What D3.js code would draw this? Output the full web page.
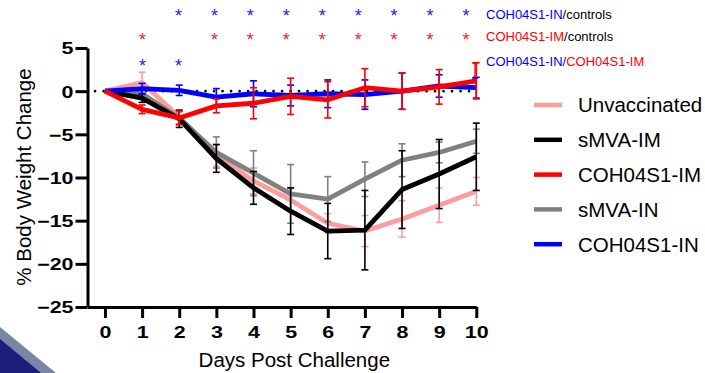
<!DOCTYPE html>
<html lang="en">
<head>
    <meta charset="UTF-8">
    <title>Body weight change</title>
    <script src="https://cdn.jsdelivr.net/npm/d3@7"></script>
    <style>
        body { margin: 0; background: #fff; }
        svg { display: block; font-family: "Liberation Sans", Arial, sans-serif; }
    </style>
</head>
<body>
<script>
    // data (mean, error)
    const days = [0, 1, 2, 3, 4, 5, 6, 7, 8, 9, 10];
    const groups = ['Unvaccinated', 'sMVA-IM', 'COH04S1-IM', 'sMVA-IN', 'COH04S1-IN'];
    const unvacc = [0, 1.0, -3.0, -7.4, -10.4, -12.6, -15.3, -16.2, -14.8, -13.2, -11.6];
    const smvaIM = [0, -0.8, -3.2, -7.8, -11.2, -13.9, -16.2, -16.1, -11.4, -9.6, -7.6];
    const cohIM = [0, -2.1, -3.1, -1.7, -1.4, -0.6, -1.0, 0.4, 0.0, 0.5, 1.2];
    const smvaIN = [0, -0.3, -3.1, -7.1, -9.5, -11.9, -12.5, -10.2, -8.0, -7.1, -5.8];
    const cohIN = [0, 0.3, 0.1, -0.7, -0.3, -0.5, -0.3, -0.4, 0.0, 0.6, 0.4];
    const unvaccErr = [0, 1.2, 0.8, 1.3, 1.5, 1.3, 1.1, 1.8, 2.1, 2.0, 1.6];
    const smvaIMErr = [0, 0.5, 1.0, 1.6, 1.9, 2.7, 3.2, 4.6, 4.5, 4.0, 3.9];
    const cohIMErr = [0, 0.5, 0.8, 0.8, 1.8, 2.1, 2.1, 2.2, 2.1, 2.0, 2.1];
    const smvaINErr = [0, 0.6, 0.7, 1.8, 2.6, 3.4, 2.6, 2.0, 1.9, 1.2, 1.4];
    const cohINErr = [0, 0.6, 0.6, 1.0, 1.5, 1.2, 1.6, 1.7, 2.1, 1.3, 1.2];
    const yTicks = [-25, -20, -15, -10, -5, 0, 5];

    // significance stars
    const starsInVsCtrl = [2, 3, 4, 5, 6, 7, 8, 9, 10];
    const starsImVsCtrl = [1, 3, 4, 5, 6, 7, 8, 9, 10];
    const starsInVsIm = [1, 2];

    const colors = ['#ff9c9c', '#000000', '#ff0000', '#808080', '#0000ff'];
    const means = [unvacc, smvaIM, cohIM, smvaIN, cohIN];
    const errs = [unvaccErr, smvaIMErr, cohIMErr, smvaINErr, cohINErr];
    const drawOrder = [0, 3, 1, 4, 2];

    const width = 705, height = 373;
    const stretch = 1.3; // tick labels in the source are drawn wide

    const svg = d3.select('body').append('svg')
        .attr('width', width)
        .attr('height', height);

    // slide corner decoration
    svg.append('path').attr('d', 'M0,327L56,373L0,373Z').attr('fill', '#7886a4');
    svg.append('path').attr('d', 'M0,339L41,373L0,373Z').attr('fill', '#1d1d7c');

    const x = d3.scaleLinear().domain([-0.47, 10]).range([87.5, 476.3]);
    const y = d3.scaleLinear().domain([-25, 5]).range([307, 48]);
    const starX = d3.scaleLinear().domain([1, 10]).range([142.5, 466]);

    // axes
    const xAxis = svg.append('g')
        .attr('transform', `translate(0,${y(-25)})`)
        .call(d3.axisBottom(x).tickValues(days).tickSizeInner(11).tickSizeOuter(0).tickPadding(8));
    const yAxis = svg.append('g')
        .attr('transform', `translate(${x(-0.47)},0)`)
        .call(d3.axisLeft(y).tickValues(yTicks).tickSizeInner(12).tickSizeOuter(0).tickPadding(2));

    [xAxis, yAxis].forEach(g => {
        g.select('.domain').attr('stroke', '#000').attr('stroke-width', 3);
        g.selectAll('.tick line').attr('stroke', '#000').attr('stroke-width', 3);
        g.selectAll('.tick text')
            .attr('fill', '#000')
            .style('font-size', '16.5px')
            .style('font-weight', 'bold')
            .style('font-family', '"Liberation Sans", Arial, sans-serif');
    });
    xAxis.selectAll('.tick text').attr('transform', `scale(${stretch},1)`);
    yAxis.selectAll('.tick text')
        .attr('dy', '0.36em')
        .attr('x', -14 / stretch)
        .attr('transform', `scale(${stretch},1)`);

    svg.append('text')
        .attr('x', x(5.1))
        .attr('y', 367)
        .attr('text-anchor', 'middle')
        .style('font-size', '20.5px')
        .text('Days Post Challenge');

    svg.append('text')
        .attr('transform', `translate(31,177) rotate(-90)`)
        .attr('text-anchor', 'middle')
        .style('font-size', '20.5px')
        .text('% Body Weight Change');

    // dotted baseline at 0
    svg.append('line')
        .attr('x1', 95).attr('x2', x(10))
        .attr('y1', y(0)).attr('y2', y(0))
        .attr('stroke', '#000')
        .attr('stroke-width', 2.6)
        .attr('stroke-linecap', 'round')
        .attr('stroke-dasharray', '0.1,8.4');

    const line = d3.line()
        .x((d, i) => x(days[i]))
        .y(d => y(d));

    drawOrder.forEach(k => {
        const g = svg.append('g');
        const m = means[k], e = errs[k];
        const bars = g.selectAll('g.bar')
            .data(days.filter(d => e[d] > 0))
            .enter().append('g')
            .attr('stroke', colors[k])
            .attr('stroke-width', 1.6);
        bars.append('line')
            .attr('x1', d => x(d)).attr('x2', d => x(d))
            .attr('y1', d => y(m[d] + e[d])).attr('y2', d => y(m[d] - e[d]));
        bars.append('line')
            .attr('x1', d => x(d) - 3.5).attr('x2', d => x(d) + 3.5)
            .attr('y1', d => y(m[d] + e[d])).attr('y2', d => y(m[d] + e[d]));
        bars.append('line')
            .attr('x1', d => x(d) - 3.5).attr('x2', d => x(d) + 3.5)
            .attr('y1', d => y(m[d] - e[d])).attr('y2', d => y(m[d] - e[d]));

        g.append('path')
            .datum(m)
            .attr('d', line)
            .attr('fill', 'none')
            .attr('stroke', colors[k])
            .attr('stroke-width', 4.8)
            .attr('stroke-linejoin', 'round');
    });

    // stars
    const starRows = [
        {days: starsInVsCtrl, y: 12, color: '#2020ff'},
        {days: starsImVsCtrl, y: 36, color: '#ff2020'},
        {days: starsInVsIm, y: 62, color: '#2020ff'}
    ];
    starRows.forEach(r => {
        svg.append('g').selectAll('text')
            .data(r.days)
            .enter().append('text')
            .attr('x', d => starX(d))
            .attr('y', r.y + 10)
            .attr('text-anchor', 'middle')
            .attr('fill', r.color)
            .style('font-size', '18px')
            .text('*');
    });

    // significance key
    const key = svg.append('g').style('font-size', '13px');
    const k1 = key.append('text').attr('x', 486).attr('y', 19);
    k1.append('tspan').attr('fill', '#0000ff').text('COH04S1-IN');
    k1.append('tspan').attr('fill', '#000').text('/controls');
    const k2 = key.append('text').attr('x', 486).attr('y', 41);
    k2.append('tspan').attr('fill', '#ff0000').text('COH04S1-IM');
    k2.append('tspan').attr('fill', '#000').text('/controls');
    const k3 = key.append('text').attr('x', 486).attr('y', 66);
    k3.append('tspan').attr('fill', '#0000ff').text('COH04S1-IN/');
    k3.append('tspan').attr('fill', '#ff0000').text('COH04S1-IM');
    const icon = key.append('g').attr('stroke-width', 1.4);
    icon.append('line').attr('x1', 475).attr('x2', 475).attr('y1', 63).attr('y2', 78).attr('stroke', '#ff0000');
    icon.append('line').attr('x1', 472).attr('x2', 478).attr('y1', 63).attr('y2', 63).attr('stroke', '#ff0000');
    icon.append('line').attr('x1', 472).attr('x2', 478).attr('y1', 78).attr('y2', 78).attr('stroke', '#0000ff');

    // legend
    const legend = svg.append('g')
        .selectAll('g')
        .data(groups)
        .enter().append('g')
        .attr('transform', (d, i) => `translate(534,${105 + i * 34.8})`);
    legend.append('line')
        .attr('x1', 0).attr('x2', 28)
        .attr('stroke', (d, i) => colors[i])
        .attr('stroke-width', 4.5);
    legend.append('text')
        .attr('x', 44)
        .attr('dy', '0.36em')
        .style('font-size', '20.5px')
        .text(d => d);
</script>
</body>
</html>
